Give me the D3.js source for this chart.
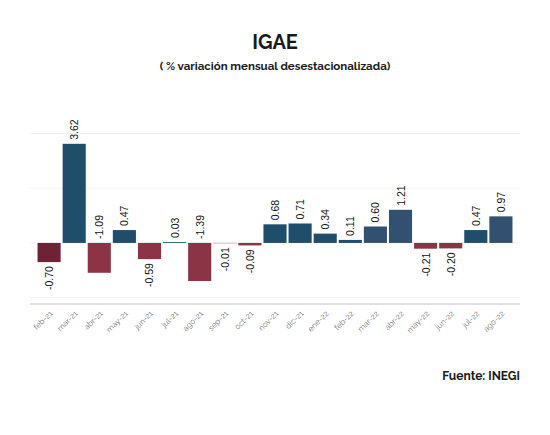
<!DOCTYPE html>
<html><head><meta charset="utf-8">
<script src="https://cdn.jsdelivr.net/npm/d3@7"></script>
<style>body{margin:0;background:#fff}svg{display:block}</style>
</head><body>
<svg id="c" width="550" height="435"></svg>
<script>
const categories = ["feb-21","mar-21","abr-21","may-21","jun-21","jul-21","ago-21","sep-21","oct-21","nov-21","dic-21","ene-22","feb-22","mar-22","abr-22","may-22","jun-22","jul-22","ago-22"];
const values = [-0.70,3.62,-1.09,0.47,-0.59,0.03,-1.39,-0.01,-0.09,0.68,0.71,0.34,0.11,0.60,1.21,-0.21,-0.20,0.47,0.97];
const yTicks = [-2,0,2,4];

const font = "Raleway, Lato, 'Open Sans', sans-serif";
const svg = d3.select("#c");
const x = d3.scaleBand().domain(categories).range([30,520]).paddingInner(0.08).paddingOuter(0.3);
const y = d3.scaleLinear().domain([-2.23,4]).range([304,133.4]);

function color(d,i){
  if (d >= 0) return (categories[i]==="mar-22"||categories[i]==="abr-22"||categories[i]==="ago-22") ? "#32506f" : "#1f4e6b";
  return categories[i]==="feb-21" ? "#6f2236" : "#8a3446";
}

svg.append("text").attr("x",275).attr("y",49).attr("text-anchor","middle")
  .attr("font-family",font).attr("font-weight",700).attr("font-size",20).attr("fill","#1a1a1a").text("IGAE");
svg.append("text").attr("x",275).attr("y",70).attr("text-anchor","middle")
  .attr("font-family",font).attr("font-weight",700).attr("font-size",11.5).attr("fill","#1a1a1a").text("( % variación mensual desestacionalizada)");

svg.append("g").selectAll("line").data(yTicks).join("line")
  .attr("x1",30).attr("x2",520).attr("y1",d=>y(d)).attr("y2",d=>y(d))
  .attr("stroke","#f2f2f2").attr("stroke-width",1);

svg.append("g").selectAll("rect").data(values).join("rect")
  .attr("x",(d,i)=>x(categories[i]))
  .attr("width",x.bandwidth())
  .attr("y",d=>y(Math.max(0,d)))
  .attr("height",d=>Math.abs(y(d)-y(0)))
  .attr("fill",color);

svg.append("g").selectAll("text").data(values).join("text")
  .attr("font-family","'Liberation Sans', Arial, sans-serif").attr("font-size",10.5).attr("fill","#111")
  .attr("transform",(d,i)=>{
    const cx = x(categories[i]) + x.bandwidth()/2 + 4;
    let yy;
    if (d >= 0) yy = y(d) - 4;
    else if (d < -1) yy = y(0) - 4;
    else yy = y(d) + 4;
    return `translate(${cx},${yy}) rotate(-90)`;
  })
  .attr("text-anchor",d=>(d>=0||d<-1)?"start":"end")
  .text(d=>d.toFixed(2));

svg.append("line").attr("x1",30).attr("x2",520).attr("y1",304).attr("y2",304)
  .attr("stroke","#e0e0e0").attr("stroke-width",2);

const xa = svg.append("g").attr("transform","translate(0,304)")
  .call(d3.axisBottom(x).tickSize(0).tickPadding(0));
xa.select(".domain").remove();
xa.selectAll("text").attr("font-family",font).attr("font-size",8).attr("fill","#777")
  .attr("text-anchor","end").attr("dy",0)
  .attr("transform","translate(4,10) rotate(-45)");

svg.append("text").attr("x",520).attr("y",380).attr("text-anchor","end")
  .attr("font-family",font).attr("font-weight",700).attr("font-size",12).attr("fill","#1a1a1a").text("Fuente: INEGI");
</script>
</body></html>
